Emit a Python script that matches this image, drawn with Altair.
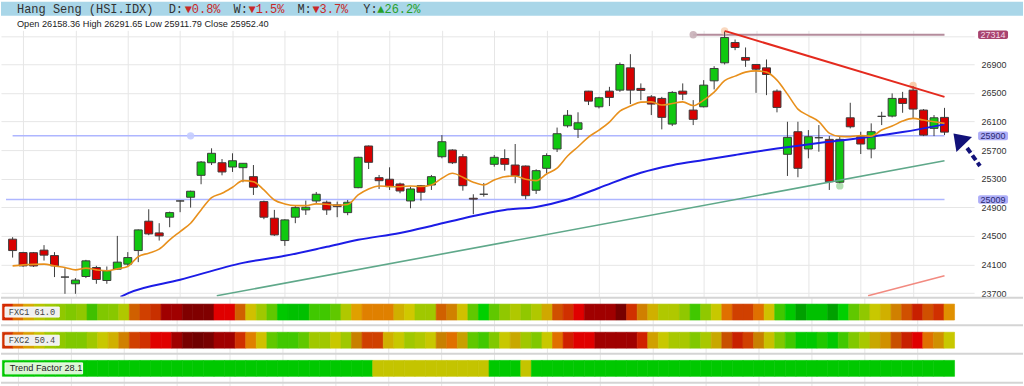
import altair as alt
import pandas as pd

# ---------------- data ----------------
idx = list(range(90))
opens = [24454, 24267, 24265, 24301, 24225, 23924, 23830, 23932, 24058, 23876,
         24035, 24105, 24295, 24706, 24542, 24762, 24989, 25041, 25348, 25524,
         25524, 25464, 25455, 25329, 24980, 24748, 24435, 24762, 24864, 24989,
         24971, 24934, 24826, 25175, 25758, 25315, 25293, 25227, 24989, 25203,
         25213, 25608, 25702, 25608, 25027, 25083, 25502, 25583, 25492, 25478,
         25139, 25446, 25716, 26041, 25992, 26526, 26307, 26526, 26540, 26852,
         26564, 26446, 26424, 26065, 26526, 26261, 26307, 26670, 26922, 27206,
         26997, 26899, 26852, 26526, 25642, 25958, 25716, 25874, 25851, 25251,
         26153, 25888, 25716, 26173, 26177, 26424, 26540, 26261, 26005, 26158.36]
highs = [24482, 24277, 24275, 24371, 24273, 24049, 23910, 24165, 24081, 24072,
         24500, 24273, 24590, 24873, 24678, 24840, 24998, 25133, 25548, 25726,
         25576, 25656, 25520, 25492, 24994, 24864, 24734, 24920, 24994, 25115,
         24994, 24980, 25003, 25608, 25765, 25353, 25460, 25245, 25189, 25213,
         25353, 25911, 25712, 25646, 25083, 25241, 25632, 25712, 25786, 25485,
         25432, 25656, 26016, 26261, 26230, 26530, 26446, 26586, 26927, 27043,
         26634, 26470, 26446, 26526, 26634, 26400, 26680, 26875, 27360, 27248,
         27137, 26905, 26969, 26550, 26097, 26097, 25981, 26051, 25897, 25888,
         26363, 25958, 26075, 26237, 26494, 26516, 26596, 26275, 26191, 26291.65]
lows = [24197, 24067, 24065, 24155, 23924, 23690, 23690, 23910, 23830, 23830,
        24025, 24081, 24133, 24510, 24435, 24622, 24832, 24896, 25223, 25492,
        25348, 25395, 25251, 25073, 24734, 24500, 24361, 24678, 24794, 24957,
        24794, 24762, 24790, 25167, 25436, 25157, 25143, 25097, 24887, 24994,
        25143, 25586, 25506, 25133, 24804, 25049, 25469, 25413, 25237, 25013,
        25087, 25376, 25674, 26016, 25870, 26331, 26284, 26317, 26516, 26345,
        26400, 26191, 25991, 26037, 26400, 26051, 26298, 26550, 26899, 27099,
        26866, 26502, 26470, 26229, 25339, 25321, 25586, 25678, 25143, 25237,
        26005, 25646, 25586, 26051, 26159, 26223, 26145, 25897, 25897, 25911.79]
closes = [24295, 24081, 24080, 24231, 24081, 23924, 23882, 24151, 23890, 24012,
          24133, 24197, 24584, 24528, 24500, 24826, 24989, 25125, 25534, 25656,
          25395, 25552, 25516, 25181, 24762, 24514, 24724, 24896, 24901, 25083,
          24864, 24910, 24971, 25600, 25530, 25273, 25189, 25129, 25157, 25111,
          25329, 25818, 25524, 25203, 25015, 25083, 25600, 25502, 25343, 25063,
          25413, 25625, 25930, 26188, 26083, 26386, 26433, 26438, 26899, 26540,
          26536, 26345, 26159, 26508, 26484, 26131, 26610, 26843, 27276, 27137,
          26959, 26833, 26759, 26298, 25879, 25446, 25888, 25874, 25259, 25851,
          26027, 25786, 25958, 26173, 26424, 26354, 26275, 25911, 26153, 25952.40]

ma_fast = [24081, 24095, 24102, 24105, 24081, 24058, 24025, 24049, 24025, 24012,
           24039, 24072, 24211, 24259, 24315, 24445, 24561, 24678, 24864, 25036,
           25097, 25181, 25273, 25259, 25143, 25003, 24948, 24924, 24924, 24948,
           24943, 24929, 24940, 25073, 25157, 25199, 25192, 25189, 25199, 25192,
           25213, 25307, 25376, 25321, 25251, 25213, 25283, 25329, 25339, 25293,
           25273, 25367, 25450, 25618, 25748, 25884, 25981, 26093, 26247, 26317,
           26372, 26376, 26331, 26352, 26376, 26324, 26400, 26512, 26673, 26736,
           26792, 26810, 26792, 26680, 26484, 26275, 26184, 26100, 25939, 25893,
           25890, 25904, 25897, 25981, 26037, 26107, 26145, 26121, 26097, 26075]

ma_slow_idx = [10.3, 11, 16, 22, 26, 30, 33, 37, 40, 43, 47, 50, 53, 56, 60, 63,
               66, 69, 73, 77, 81, 85, 89]
ma_slow_val = [23648, 23697, 23886, 24123, 24221, 24347, 24445, 24542, 24640, 24745,
               24864, 24906, 25010, 25171, 25385, 25490, 25562, 25632, 25723, 25800,
               25870, 25953, 26061]

red_trend_idx = [68, 89]
red_trend_val = [27369, 26446]
green_trend_idx = [19.5, 89]
green_trend_val = [23662, 25552]
pink_trend_idx = [81.7, 89]
pink_trend_val = [23662, 23942]

blue_levels = [25900, 25009]
blue_level_start = [0, -0.63]
brown_level = 27314
brown_level_start = 65
level_end = 89

y_ticks = list(range(23700, 27301, 400))
grid_x = list(range(1, 90, 5))

fxc1 = ["#d42a00", "#e07000", "#d8a800", "#b8c400", "#a0c800", "#90c800", "#80c800", "#90c800", "#40c000", "#80c800",
        "#88c800", "#b0c800", "#d06000", "#d04000", "#c83000", "#a00000", "#a00000", "#800000", "#800000", "#800000",
        "#e00000", "#e00000", "#d06000", "#d0c000", "#a0c800", "#60c800", "#00c800", "#00c000", "#00c000", "#40c800",
        "#40c800", "#60c800", "#b0c800", "#e0a000", "#e08000", "#e08000", "#e08000", "#d0b000", "#d0c800", "#a0c800",
        "#a0c800", "#d06000", "#d08000", "#d0c000", "#60c800", "#00d000", "#60c800", "#90c800", "#b0c800", "#90c800",
        "#b0c800", "#d0a800", "#d05000", "#d03000", "#e00000", "#a00000", "#a00000", "#a00000", "#780000", "#d03000",
        "#d08000", "#d0b000", "#b0c800", "#b0c800", "#90c800", "#40c800", "#90c800", "#c8c800", "#e07000", "#d04000",
        "#d04000", "#e07000", "#d0c000", "#40c800", "#00c800", "#00a000", "#00c000", "#00c000", "#00a000", "#00d000",
        "#60c800", "#90c800", "#c8c800", "#d0b000", "#d08000", "#d05000", "#c82000", "#d05000", "#d03000", "#e09000"]
fxc2 = ["#d03000", "#e07000", "#d8a000", "#c8c000", "#a0c800", "#90c800", "#80c800", "#80c800", "#a0c800", "#c8c800",
        "#d0b000", "#d08000", "#d04000", "#d03000", "#e00000", "#e00000", "#a00000", "#780000", "#700000", "#780000",
        "#a00000", "#a00000", "#d03000", "#e08000", "#d0c000", "#60c800", "#40c800", "#40c800", "#60c800", "#a0c800",
        "#a0c800", "#c8c800", "#a0c800", "#c88000", "#d04000", "#d04000", "#d0b000", "#c8c800", "#a0c800", "#b0c800",
        "#c8c800", "#c88000", "#e07000", "#c8a000", "#60c800", "#40c800", "#80c800", "#c8c800", "#c8a800", "#a0c800",
        "#80c800", "#c8c800", "#e07000", "#d02000", "#e00000", "#e00000", "#a00000", "#a00000", "#a00000", "#a00000",
        "#d02000", "#d0a000", "#c8c800", "#a8c800", "#a8c800", "#80c800", "#a8c800", "#c8a800", "#c85000", "#c82000",
        "#d04000", "#c88000", "#c8c000", "#80c800", "#40c800", "#00c800", "#00c800", "#20c800", "#00c800", "#40c800",
        "#80c800", "#a8c800", "#c8a800", "#d09000", "#c85000", "#c82000", "#e00000", "#e07000", "#d09000", "#c8c800"]
trend_green = "#00c800"
trend_yellow = "#c4c400"
trend = [trend_green] * 35 + [trend_yellow] * 11 + [trend_green] * 3 + [trend_yellow] + [trend_green] * 40

row_names = ["FXC1", "FXC2", "Trend"]
row_labels = ["FXC1 61.0", "FXC2 50.4", "Trend Factor 28.1"]

# ---------------- tables ----------------
UP, DOWN, FLAT = "#10c810", "#d80000", "#333333"
candles = pd.DataFrame({"i": idx, "open": opens, "high": highs, "low": lows, "close": closes})
candles["fill"] = [UP if c > o else (DOWN if c < o else FLAT) for o, c in zip(opens, closes)]

xs = alt.Scale(domain=[-0.632, 91.35], nice=False, zero=False)
ys = alt.Scale(domain=[23648, 27377], nice=False, zero=False)
GRID = "#e6e6e6"
x_axis = alt.Axis(values=grid_x, grid=True, gridColor=GRID, labels=False, ticks=False,
                  domain=False, title=None)
y_axis = alt.Axis(orient="right", values=y_ticks, grid=True, gridColor=GRID, ticks=False,
                  domain=False, title=None, labelPadding=7, labelFont="Liberation Sans",
                  labelFontSize=9, labelColor="#333333", format="d",
                  labelExpr="datum.value == 27300 ? '' : datum.label")


def X(f):
    return alt.X(f, type="quantitative", scale=xs, axis=x_axis)


def Y(f):
    return alt.Y(f, type="quantitative", scale=ys, axis=y_axis)


cand = alt.Chart(candles)
wicks = cand.mark_rule(color="#3c3c3c", strokeWidth=1).encode(x=X("i"), y=Y("low"), y2="high")
bodies = cand.mark_bar(size=8, stroke="#3c3c3c", strokeWidth=1).encode(
    x=X("i"), y=Y("open"), y2="close", fill=alt.Fill("fill:N", scale=None))

blue_lv = pd.DataFrame({"s": blue_level_start, "e": [level_end] * 2, "v": blue_levels})
blue_lines = alt.Chart(blue_lv).mark_rule(color="#aeb6ff", strokeWidth=1.5).encode(
    x=X("s"), x2="e", y=Y("v"))
brown_lv = pd.DataFrame({"s": [brown_level_start], "e": [level_end], "v": [brown_level]})
brown_line = alt.Chart(brown_lv).mark_rule(color="#b48c9c", strokeWidth=2).encode(
    x=X("s"), x2="e", y=Y("v"))

marker_df = pd.DataFrame({"i": [17, 65, 86, 68, 79],
                          "v": [25900, 27314, 26605, 27369, 25200],
                          "c": ["#c4ccff", "#c8b0b8", "#f8c8a4", "#f8d4b8", "#a8dca8"]})
markers = alt.Chart(marker_df).mark_circle(size=55, opacity=0.9).encode(
    x=X("i"), y=Y("v"), color=alt.Color("c:N", scale=None))


def line(ix, vals, color, width, interp="linear"):
    d = pd.DataFrame({"i": ix, "v": vals})
    return alt.Chart(d).mark_line(color=color, strokeWidth=width, interpolate=interp, clip=True).encode(
        x=X("i"), y=Y("v"))


green_tl = line(green_trend_idx, green_trend_val, "#5fa88a", 1.6)
pink_tl = line(pink_trend_idx, pink_trend_val, "#f28a80", 1.5)
blue_ma = line(ma_slow_idx, ma_slow_val, "#1c1ce6", 2, "monotone")
orange_ma = line(idx, ma_fast, "#e8901c", 1.6, "monotone")
red_tl = line(red_trend_idx, red_trend_val, "#e42a1e", 2)

# price tags at the right
tags = pd.DataFrame({"v": [brown_level] + blue_levels,
                     "t": [str(brown_level)] + [str(b) for b in blue_levels],
                     "bg": ["#a8446f", "#aeaef8", "#aeaef8"],
                     "fg": ["#f6dce8", "#2a2a70", "#2a2a70"]})
tag_boxes = alt.Chart(tags).transform_calculate(lo="datum.v - 60", hi="datum.v + 60").mark_rect(
    cornerRadius=2).encode(x=alt.value(979), x2=alt.value(1009), y=Y("lo:Q"), y2="hi:Q",
                           fill=alt.Fill("bg:N", scale=None))
tag_text = alt.Chart(tags).mark_text(font="Liberation Sans", fontSize=9, align="center",
                                     baseline="middle").encode(
    x=alt.value(994), y=Y("v"), text="t:N", color=alt.Color("fg:N", scale=None))

# arrow
arrow_head = pd.DataFrame({"i": [90.37], "v": [25857]})
head = alt.Chart(arrow_head).mark_point(shape="M0,-1L1.4,1L-1.4,1Z", size=240, angle=316,
                                        filled=True, color="#12127a", opacity=1).encode(
    x=X("i"), y=Y("v"))
arrow_shaft = pd.DataFrame({"i": [91.16, 92.39], "v": [25730, 25478]})
shaft = alt.Chart(arrow_shaft).mark_line(color="#12127a", strokeWidth=4, strokeDash=[6, 3]).encode(
    x=X("i"), y=Y("v"))

main = alt.layer(blue_lines, brown_line, markers, wicks, bodies, green_tl, pink_tl, blue_ma,
                 orange_ma, red_tl, tag_boxes, tag_text, shaft, head).properties(width=975, height=267)

# ---------------- header ----------------
dummy = pd.DataFrame({"a": [0]})
hdr = [alt.Chart(dummy).mark_rect(color="#a9d6e8").encode(
    x=alt.value(0), x2=alt.value(1024), y=alt.value(1.5), y2=alt.value(15.5))]
pieces = [("Hang Seng (HSI.IDX)", 16, "#333333"), ("D:", 168, "#333333"), ("\u25bc0.8%", 184, "#c82828"),
          ("W:", 233, "#333333"), ("\u25bc1.5%", 248, "#c82828"), ("M:", 297, "#333333"),
          ("\u25bc3.7%", 312, "#c82828"), ("Y:", 363, "#333333"), ("\u25b226.2%", 377, "#28a028")]
for txt, px, col in pieces:
    hdr.append(alt.Chart(dummy).mark_text(text=txt, font="Liberation Mono", fontSize=12, color=col,
                                          align="left", baseline="alphabetic").encode(
        x=alt.value(px), y=alt.value(12.3)))
ohlc = (f"Open {opens[-1]:.2f} High {highs[-1]:.2f} Low {lows[-1]:.2f} Close {closes[-1]:.2f}")
hdr.append(alt.Chart(dummy).mark_text(text=ohlc, font="Liberation Sans", fontSize=9.2, color="#222222",
                                      align="left", baseline="alphabetic").encode(
    x=alt.value(16), y=alt.value(27)))
header = alt.layer(*hdr).properties(width=1024, height=30)

# ---------------- strips ----------------
strip_df = pd.DataFrame({"i": idx * 3,
                         "row": [r for r in row_names for _ in idx],
                         "color": fxc1 + fxc2 + trend})
sx = alt.Scale(domain=[-0.632, 95.97], nice=False, zero=False)
sy = alt.Scale(domain=row_names, paddingInner=0.433, paddingOuter=0.294, align=0.44)
sx_axis = alt.Axis(values=grid_x, grid=True, gridColor=GRID, labels=False, ticks=False,
                   domain=False, title=None)
cells = alt.Chart(strip_df).transform_calculate(a="datum.i - 0.5", b="datum.i + 0.5").mark_rect(
    strokeWidth=0.6).encode(
    x=alt.X("a:Q", scale=sx, axis=sx_axis), x2="b:Q",
    y=alt.Y("row:N", scale=sy, axis=None),
    fill=alt.Fill("color:N", scale=None), stroke=alt.Stroke("color:N", scale=None))

lab_df = pd.DataFrame({"row": row_names, "label": row_labels,
                       "xs": [-0.25, -0.25, -0.25], "xe": [4.87, 4.87, 7.08], "tx": [0.1, 0.1, 0.2]})
fx_boxes = alt.Chart(lab_df).transform_filter("datum.row != 'Trend'").mark_bar(
    size=10, fill="#f0f0f0", stroke="#fbfbfb", strokeWidth=1).encode(
    x=alt.X("xs:Q", scale=sx, axis=sx_axis), x2="xe:Q", y=alt.Y("row:N", scale=sy, axis=None))
tr_box = alt.Chart(lab_df).transform_filter("datum.row == 'Trend'").mark_bar(
    size=11, fill="#dcf6d6", stroke="#f4fff0", strokeWidth=1).encode(
    x=alt.X("xs:Q", scale=sx, axis=sx_axis), x2="xe:Q", y=alt.Y("row:N", scale=sy, axis=None))
fx_text = alt.Chart(lab_df).transform_filter("datum.row != 'Trend'").mark_text(
    font="Liberation Mono", fontSize=8.6, color="#444444", align="left", baseline="middle").encode(
    x=alt.X("tx:Q", scale=sx, axis=sx_axis), y=alt.Y("row:N", scale=sy, axis=None), text="label:N")
tr_text = alt.Chart(lab_df).transform_filter("datum.row == 'Trend'").mark_text(
    font="Liberation Sans", fontSize=9.2, color="#222222", align="left", baseline="middle").encode(
    x=alt.X("tx:Q", scale=sx, axis=sx_axis), y=alt.Y("row:N", scale=sy, axis=None), text="label:N")

seps = []
for yy in [1, 28.5, 57, 86]:
    seps.append(alt.Chart(dummy).mark_rule(color="#d4d4d4", strokeWidth=2).encode(
        x=alt.value(0), x2=alt.value(1024), y=alt.value(yy)))

strips = alt.layer(cells, *seps, fx_boxes, tr_box, fx_text, tr_text).properties(width=1024, height=89)

chart = alt.vconcat(header, main, strips, spacing=0, bounds="flush").properties(
    padding=0, background="white").configure_view(stroke=None)

chart.save("out.html", embed_options={"renderer": "svg", "actions": False})
